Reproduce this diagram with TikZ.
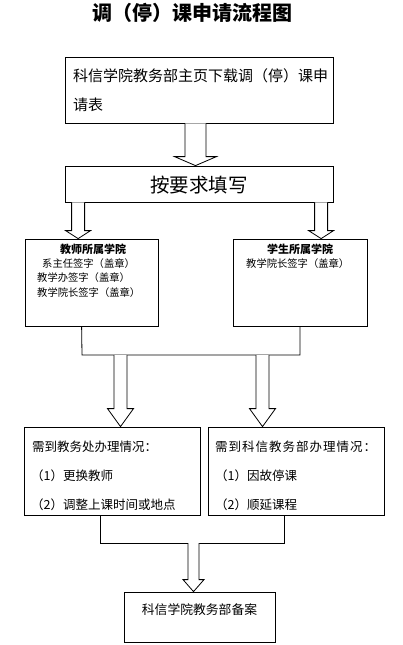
\documentclass[tikz,border=0pt]{standalone}
\usepackage{fontspec}
\setmainfont{Noto Sans CJK SC}
\newfontfamily\cjk{Noto Sans CJK SC}
\usetikzlibrary{calc}
\tikzset{
  box/.style={draw=black, line width=0.8pt, fill=white, inner sep=0pt, minimum width=#1},
  txt/.style={inner sep=0pt, anchor=west, text=black},
  ctxt/.style={inner sep=0pt, anchor=center, text=black},
  arrowbox/.style={draw=black, line width=0.8pt, fill=white, line join=miter},
  link/.style={draw=black, line width=0.8pt}
}
% #1 start, #2 end, #3 half shaft, #4 half head, #5 head length
\newcommand\blkarrow[5]{%
  \draw[arrowbox] let \p1=(#1), \p2=(#2) in
    ({\x1-#3pt},\y1) -- ({\x1-#3pt},{\y2+#5pt}) -- ({\x1-#4pt},{\y2+#5pt}) --
    (\x1,\y2) -- ({\x1+#4pt},{\y2+#5pt}) -- ({\x1+#3pt},{\y2+#5pt}) --
    ({\x1+#3pt},\y1);}
\begin{document}
\begin{tikzpicture}[x=1pt,y=-1pt]
\useasboundingbox[fill=white] (0,0) rectangle (403,645);

% title
\node[ctxt, font=\cjk\bfseries\fontsize{20}{20}\selectfont] (title) at (192,13) {调（停）课申请流程图};

% boxes
\node[box=268pt, minimum height=66pt] (b1) at (199,90) {};
\node[box=268pt, minimum height=36pt] (b2) at (199,184) {};
\node[box=133pt, minimum height=87pt] (bL) at (91.5,282.5) {};
\node[box=134pt, minimum height=87pt] (bR) at (300,282.5) {};
\node[box=176pt, minimum height=88pt] (cL) at (112,471) {};
\node[box=176pt, minimum height=88pt] (cR) at (296,471) {};
\node[box=151pt, minimum height=50pt] (fin) at (199.5,617) {};

% texts
\node[txt, font=\cjk\fontsize{15}{15}\selectfont] (t1a) at (73,76) {科信学院教务部主页下载调（停）课申};
\node[txt, font=\cjk\fontsize{15}{15}\selectfont] (t1b) at (73,105) {请表};
\node[ctxt, font=\cjk\fontsize{19.5}{19.5}\selectfont] (t2) at (199,185) {按要求填写};

\node[ctxt, font=\cjk\bfseries\fontsize{11}{11}\selectfont] (tLh) at (93,249) {教师所属学院};
\node[txt, font=\cjk\fontsize{10.3}{10.3}\selectfont] (tL1) at (42,264) {系主任签字（盖章）};
\node[txt, font=\cjk\fontsize{10.3}{10.3}\selectfont] (tL2) at (37,278) {教学办签字（盖章）};
\node[txt, font=\cjk\fontsize{10.3}{10.3}\selectfont] (tL3) at (37,293) {教学院长签字（盖章）};

\node[ctxt, font=\cjk\bfseries\fontsize{11}{11}\selectfont] (tRh) at (300,249) {学生所属学院};
\node[txt, font=\cjk\fontsize{10.3}{10.3}\selectfont] (tR1) at (246,264) {教学院长签字（盖章）};

\node[txt, font=\cjk\fontsize{12.5}{12.5}\selectfont] (cL0) at (32,447) {需到教务处办理情况：};
\node[txt, font=\cjk\fontsize{12.5}{12.5}\selectfont] (cL1) at (31,476) {（1）更换教师};
\node[txt, font=\cjk\fontsize{12.5}{12.5}\selectfont] (cL2) at (31,505) {（2）调整上课时间或地点};

\node[txt, font=\cjk\fontsize{12.5}{12.5}\selectfont\addfontfeature{LetterSpace=8}] (cR0) at (215,447) {需到科信教务部办理情况：};
\node[txt, font=\cjk\fontsize{12.5}{12.5}\selectfont] (cR1) at (215,476) {（1）因故停课};
\node[txt, font=\cjk\fontsize{12.5}{12.5}\selectfont] (cR2) at (215,505) {（2）顺延课程};

\node[ctxt, font=\cjk\fontsize{12.8}{12.8}\selectfont] (tf) at (199.5,610) {科信学院教务部备案};

% junction coordinates
\coordinate (j1) at (82,355);
\coordinate (j2) at (300,355);
\coordinate (k1) at (100,543);
\coordinate (k2) at (284,543);

% connectors
\draw[link] ($(bL.south west)+(57,0)$) -- (j1) -- (j2) -- (bR.south);
\draw[link] ($(cL.south)+(-12,0)$) -- (k1) -- (k2) -- ($(cR.south)+(-12,0)$);

% block arrows
\blkarrow{$(b1.south)+(-3.5,0)$}{$(b2.north)+(-3.5,0)$}{10.5}{21}{9}
\blkarrow{$(b2.south west)+(13.5,0)$}{$(bL.north west)+(53.5,0)$}{6.5}{12.5}{8}
\blkarrow{$(b2.south west)+(256.5,0)$}{$(bR.north west)+(88.5,0)$}{6.5}{12.5}{8}
\blkarrow{$(j1)+(38.5,0)$}{$(cL.north)+(8.5,0)$}{6.5}{13}{18}
\blkarrow{$(j2)+(-37.5,0)$}{$(cR.north)+(-33.5,0)$}{6.5}{13}{18}
\blkarrow{$(k1)+(93.5,0)$}{$(fin.north)+(-6,0)$}{5.5}{10.5}{12}
\end{tikzpicture}
\end{document}
